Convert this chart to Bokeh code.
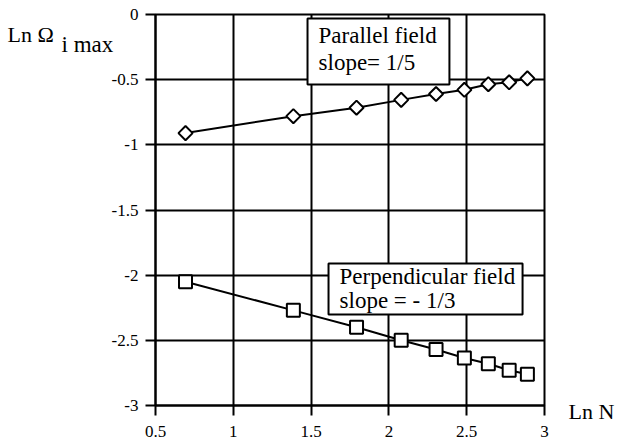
import math
from bokeh.plotting import figure
from bokeh.models import FixedTicker, Label, BoxAnnotation, Range1d
from bokeh.embed import file_html
from bokeh.resources import INLINE

# Ln N for N = 2, 4, 6, ... 18 particles
ln_n = [0.693, 1.386, 1.792, 2.079, 2.303, 2.485, 2.639, 2.773, 2.890]
# Ln of the maximum ion frequency
parallel_field = [-0.91, -0.78, -0.715, -0.655, -0.61, -0.578, -0.535, -0.52, -0.49]
perpendicular_field = [-2.05, -2.27, -2.40, -2.50, -2.57, -2.635, -2.68, -2.73, -2.76]

x_ticks = [0.5, 1.0, 1.5, 2.0, 2.5, 3.0]
x_tick_labels = ["0.5", "1", "1.5", "2", "2.5", "3"]
y_ticks = [-3.0, -2.5, -2.0, -1.5, -1.0, -0.5, 0.0]
y_tick_labels = ["-3", "-2.5", "-2", "-1.5", "-1", "-0.5", "0"]

FONT = "Liberation Serif"

p = figure(width=617, height=447, output_backend="svg", toolbar_location=None,
           x_range=Range1d(0.5, 3.0), y_range=Range1d(-3.0, 0.0),
           min_border_left=155, min_border_right=73, min_border_top=14,
           min_border_bottom=42)
p.background_fill_color = "white"
p.border_fill_color = "white"
p.outline_line_color = "black"
p.outline_line_width = 2

for ax, ticks, labels in ((p.xaxis[0], x_ticks, x_tick_labels),
                          (p.yaxis[0], y_ticks, y_tick_labels)):
    ax.ticker = FixedTicker(ticks=ticks)
    ax.major_label_overrides = {t: l for t, l in zip(ticks, labels)}
    ax.minor_tick_line_color = None
    ax.major_tick_in = 0
    ax.major_tick_out = 10
    ax.major_tick_line_width = 2
    ax.major_tick_line_color = "black"
    ax.axis_line_width = 2
    ax.axis_line_color = "black"
    ax.major_label_text_font = FONT
    ax.major_label_text_font_size = "17px"
    ax.major_label_text_color = "black"

p.xaxis.major_label_standoff = 10
p.yaxis.major_label_standoff = 7

p.xgrid.ticker = FixedTicker(ticks=x_ticks)
p.ygrid.ticker = FixedTicker(ticks=y_ticks)
p.grid.grid_line_color = "black"
p.grid.grid_line_width = 2
p.grid.grid_line_alpha = 1.0

# data series
p.line(ln_n, parallel_field, line_color="black", line_width=2)
p.scatter(ln_n, parallel_field, marker="square", angle=math.pi / 4, size=10,
          fill_color="white", line_color="black", line_width=2)

p.line(ln_n, perpendicular_field, line_color="black", line_width=2)
p.scatter(ln_n, perpendicular_field, marker="square", size=13,
          fill_color="white", line_color="black", line_width=2)

# annotation boxes
p.add_layout(BoxAnnotation(left=1.477, right=2.389, top=-0.031, bottom=-0.537,
                           fill_color="white", fill_alpha=1.0,
                           line_color="black", line_width=2, line_alpha=1.0))
p.add_layout(BoxAnnotation(left=1.612, right=2.859, top=-1.911, bottom=-2.302,
                           fill_color="white", fill_alpha=1.0,
                           line_color="black", line_width=2, line_alpha=1.0))


def text(x, y, s, size="23px"):
    p.add_layout(Label(x=x, y=y, text=s, text_font=FONT, text_font_size=size,
                       text_color="black", text_baseline="alphabetic",
                       text_align="left"))


text(1.548, -0.158, "Parallel field")
text(1.548, -0.368, "slope= 1/5")
text(1.683, -2.010, "Perpendicular field")
text(1.683, -2.195, "slope = - 1/3")


# axis titles sit in the side panels, positioned in panel pixels
def side_text(x, y, s, side, size):
    p.add_layout(Label(x=x, y=y, x_units="screen", y_units="screen", text=s,
                       text_font=FONT, text_font_size=size,
                       text_color="black", text_baseline="alphabetic",
                       text_align="left"), side)


side_text(5, 361, "i max", "left", "23px")
side_text(-3, 371, "Ln Ω", "left", "22px")
side_text(24, -6, "Ln N", "right", "22px")

open("out.html", "w").write(file_html(p, INLINE))
